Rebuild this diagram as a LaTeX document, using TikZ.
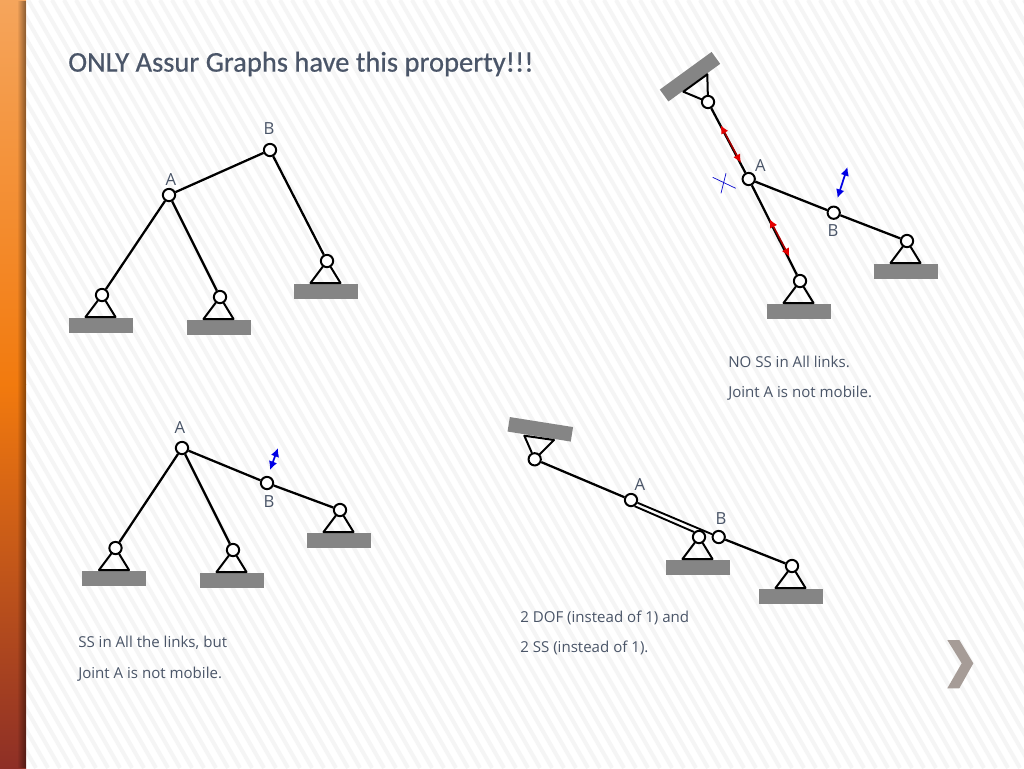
\documentclass[tikz,border=0pt]{standalone}
\usepackage{fontspec}
\setmainfont{Open Sans}
\newfontfamily\titlefont[FakeBold=0.5]{Carlito}
\usetikzlibrary{arrows.meta,positioning,fadings}
\definecolor{slate}{HTML}{4A5568}
\definecolor{stripe}{HTML}{F5F5F5}
\definecolor{groundgray}{HTML}{858585}
\definecolor{chevrongray}{HTML}{A69C97}
\definecolor{barlight}{HTML}{F5A55C}
\definecolor{barmid}{HTML}{F27A0E}
\definecolor{bardark}{HTML}{8E2F26}
\tikzset{
  pin/.style={circle,draw=black,fill=white,line width=1.5pt,minimum size=9.2pt,inner sep=0pt},
  ground/.style={fill=groundgray,minimum width=48pt,minimum height=11pt,inner sep=0pt},
  link/.style={draw=black,line width=1.7pt},
  tri/.style={draw=black,line width=1.5pt,line join=round,line cap=round},
  letter/.style={text=slate,font=\fontsize{12.5}{15}\selectfont,inner sep=0pt},
  note/.style={text=slate,font=\fontsize{11.3}{14}\selectfont,inner sep=0pt,anchor=west},
  redarrow/.style={{Latex[length=6.5pt,width=6pt,color=red!90!black]}-{Latex[length=6.5pt,width=6pt,color=red!90!black]},draw=red!65!black,line width=1.2pt},
  bluearrow/.style={{Latex[length=6.5pt,width=6.5pt]}-{Latex[length=6.5pt,width=6.5pt]},draw=blue!90!black,line width=1.3pt}
}
\begin{document}
\begin{tikzpicture}[x=.75pt,y=-.75pt]
  \useasboundingbox (0,0) rectangle (1024,768);
  % background
  \fill[white] (0,0) rectangle (1024,768);
  \begin{scope}
    \clip (26,0) rectangle (1024,768);
    \foreach \s in {-440,-428,...,1030}
      \draw[stripe,line width=3pt] (\s,0) -- (\s+440,768);
  \end{scope}
  \shade[top color=barlight,bottom color=barmid] (0,0) rectangle (26,384);
  \shade[top color=barmid,bottom color=bardark] (0,384) rectangle (26,768);
  \fill[black,opacity=.45,path fading=west] (17,0) rectangle (26,768);
  \fill[chevrongray] (947.3,640) -- (959.3,640) -- (973.3,663.3) -- (959.3,688.3) -- (947.3,688.3) -- (961.7,663.3) -- cycle;
  \node[text=slate,font=\titlefont\fontsize{21.4}{26}\selectfont,inner sep=0pt,anchor=west] (title) at (68,64) {ONLY Assur Graphs have this property!!!};

  % pins standing on the floor
  \foreach \n/\x/\y in {a/102/295,b/220/297,c/327/261,
                        d/115.5/548,e/233/550,f/340/510,
                        g/800/281,h/907/241,
                        i/699/537,j/792/566} {
    \node[pin] (p\n) at (\x,\y) {};
    \node[ground] (g\n) at (\x-1.5,\y+30.5) {};
    \coordinate (l\n) at (\x-16.5,\y+22);
    \coordinate (r\n) at (\x+13.5,\y+22);
    \draw[tri] (l\n) -- (p\n) -- (r\n) -- (l\n);
  }

  % top left
  \node[pin] (A1) at (169,195) {};
  \node[pin] (B1) at (270,150) {};
  \draw[link] (pa) -- (A1);
  \draw[link] (pb) -- (A1);
  \draw[link] (A1) -- (B1);
  \draw[link] (B1) -- (pc);
  \node[letter] (lA1) at (171,180) {A};
  \node[letter] (lB1) at (269,129) {B};

  % bottom left
  \node[pin] (A3) at (182,448) {};
  \node[pin] (B3) at (267,483) {};
  \draw[link] (pd) -- (A3);
  \draw[link] (pe) -- (A3);
  \draw[link] (A3) -- (B3);
  \draw[link] (B3) -- (pf);
  \node[letter] (lA3) at (180,428) {A};
  \node[letter] (lB3) at (269,502) {B};
  \coordinate (b3a) at (270,470);
  \coordinate (b3b) at (278,448);
  \draw[bluearrow] (b3a) -- (b3b);
  \node[note] (n3a) at (78,643) {SS in All the links, but};
  \node[note] (n3b) at (78,674) {Joint A is not mobile.};

  % top right
  \node[pin] (A2) at (748.7,179) {};
  \node[pin] (B2) at (833.7,212.7) {};
  \node[pin] (T2) at (708,102) {};
  \node[ground,rotate=36] (gT2) at (690,76.7) {};
  \coordinate (tl2) at (683.3,91.7);
  \coordinate (tr2) at (707.3,74.3);
  \draw[tri] (tl2) -- (T2) -- (tr2) -- (tl2);
  \draw[link] (T2) -- (A2);
  \draw[link] (A2) -- (pg);
  \draw[link] (A2) -- (B2);
  \draw[link] (B2) -- (ph);
  \node[letter] (lA2) at (760.5,166) {A};
  \node[letter] (lB2) at (833,231) {B};
  \coordinate (r2a) at (720.5,125);
  \coordinate (r2b) at (741,163);
  \coordinate (r2c) at (769.5,219);
  \coordinate (r2d) at (789.5,257);
  \draw[redarrow] (r2a) -- (r2b);
  \draw[redarrow] (r2c) -- (r2d);
  \coordinate (b2a) at (847.5,167);
  \coordinate (b2b) at (837.5,198);
  \draw[bluearrow] (b2a) -- (b2b);
  \coordinate (x2a) at (712.7,177.3);
  \coordinate (x2b) at (735.7,188.3);
  \coordinate (x2c) at (726,173.3);
  \coordinate (x2d) at (721,193.3);
  \draw[blue!80!black,line width=.5pt] (x2a) -- (x2b);
  \draw[blue!80!black,line width=.5pt] (x2c) -- (x2d);
  \node[note] (n2a) at (728,362) {NO SS in All links.};
  \node[note] (n2b) at (728,393) {Joint A is not mobile.};

  % bottom right
  \node[pin] (A4) at (631,500) {};
  \node[pin] (B4) at (718.7,537) {};
  \node[pin] (T4) at (534.7,459.3) {};
  \node[ground,rotate=-9] (gT4) at (540.3,429.3) {};
  \coordinate (tl4) at (524.3,435.7);
  \coordinate (tr4) at (554,440);
  \draw[tri] (tl4) -- (T4) -- (tr4) -- (tl4);
  \draw[link] (T4) -- (A4);
  \draw[link,line width=1.4pt] (A4) -- (B4);
  \draw[link,line width=1.4pt] (A4.-60) -- (pi.135);
  \draw[link] (B4) -- (pj);
  \node[letter] (lA4) at (640,485) {A};
  \node[letter] (lB4) at (721,519) {B};
  \node[note] (n4a) at (520,618) {2 DOF (instead of 1) and};
  \node[note] (n4b) at (520,648) {2 SS (instead of 1).};
\end{tikzpicture}
\end{document}
